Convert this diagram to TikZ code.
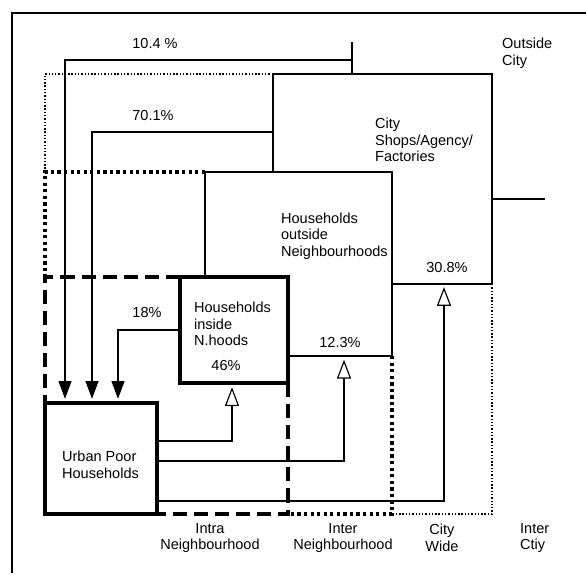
\documentclass[tikz,border=0pt]{standalone}
\usepackage{fontspec}
\setmainfont{Liberation Sans}
\usetikzlibrary{arrows.meta,fit}

\begin{document}
\begin{tikzpicture}[x=0.03cm, y=-0.03cm,
    font=\fontsize{12.4}{14.3}\selectfont,
    box/.style={draw, fill=white, inner sep=0pt},
    wire/.style={line width=1pt},
    fall/.style={wire, -{Triangle[length=15pt,width=11pt]}, shorten >=2pt},
    rise/.style={wire, -{Triangle[open,length=16pt,width=12pt]}, shorten >=2pt},
    finedot/.style={line width=1.2pt, dash pattern=on 1.2pt off 1.6pt},
    bigdot/.style={line width=2.8pt, dash pattern=on 2.8pt off 2.8pt},
    bigdash/.style={line width=3.2pt, dash pattern=on 12pt off 6pt}]

  \useasboundingbox (0,0) rectangle (586,574);

  % frame
  \draw[line width=1.1pt] (12,573) -- (12,13) -- (586,13);

  % zones
  \draw[finedot] (273,74) -- (45,74) -- (45,172);
  \draw[finedot] (492,284) -- (492,514) -- (392,514);
  \draw[bigdot]  (205,172) -- (45,172) -- (45,277);
  \draw[bigdot]  (392,356) -- (392,514) -- (288,514);
  \draw[bigdash] (180,277) -- (45,277) -- (45,403);
  \draw[bigdash] (288,383) -- (288,514) -- (157,514);

  % boxes
  \node[box, line width=1.2pt, fit={(273,74) (492,284)}]  (city)    {};
  \node[box, line width=2.4pt, fit={(205,172) (392,356)}] (outside) {};
  \node[box, line width=3.2pt, fit={(180,277) (288,383)}] (inside)  {};
  \node[box, line width=3.2pt, fit={(45,403) (157,514)}]  (urban)   {};

  \node[anchor=west, align=left] (citytxt)    at (371,140) {City\\Shops/Agency/\\Factories};
  \node[anchor=west, align=left] (outsidetxt) at (277,236) {Households\\outside\\Neighbourhoods};
  \node[anchor=west, align=left] (insidetxt)  at (190,324) {Households\\inside\\N.hoods};
  \node[anchor=west, align=left] (urbantxt)   at (58,465)  {Urban Poor\\Households};

  \node (citypct)    at (447,267) {30.8\%};
  \node (outsidepct) at (340,342) {12.3\%};
  \node (insidepct)  at (226,365) {46\%};

  \node (toppct)  at (155,43)  {10.4 \%};
  \node (midpct)  at (153,115) {70.1\%};
  \node (lowpct)  at (147,312) {18\%};

  \node[anchor=west, align=left] (outcity) at (498,53) {Outside\\City};

  % zone names
  \node[align=center] (intra)   at (210,538) {Intra\\Neighbourhood};
  \node[align=center] (inter)   at (343,538) {Inter\\Neighbourhood};
  \node[align=center] (wide)    at (442,538) {City\\Wide};
  \node[anchor=west, align=left] (intercity) at (516,538) {Inter\\Ctiy};

  % flows
  \coordinate (top)  at (352,42);
  \coordinate (c1)   at (65,60);
  \coordinate (c2)   at (92,132);
  \coordinate (c3)   at (118,330);
  \coordinate (u1)   at (232,441);
  \coordinate (u2)   at (344,461);
  \coordinate (u3)   at (444,501);
  \coordinate (east) at (545,199);

  \draw[wire] (city.north -| top) -- (top);
  \draw[fall] (c1 -| top) -- (c1) -- (c1 |- urban.north);
  \draw[fall] (c2 -| city.west) -- (c2) -- (c2 |- urban.north);
  \draw[fall] (c3 -| inside.west) -- (c3) -- (c3 |- urban.north);
  \draw[rise] (u1 -| urban.east) -- (u1) -- (u1 |- inside.south);
  \draw[rise] (u2 -| urban.east) -- (u2) -- (u2 |- outside.south);
  \draw[rise] (u3 -| urban.east) -- (u3) -- (u3 |- city.south);
  \draw[wire] (city.east |- east) -- (east);

\end{tikzpicture}
\end{document}
